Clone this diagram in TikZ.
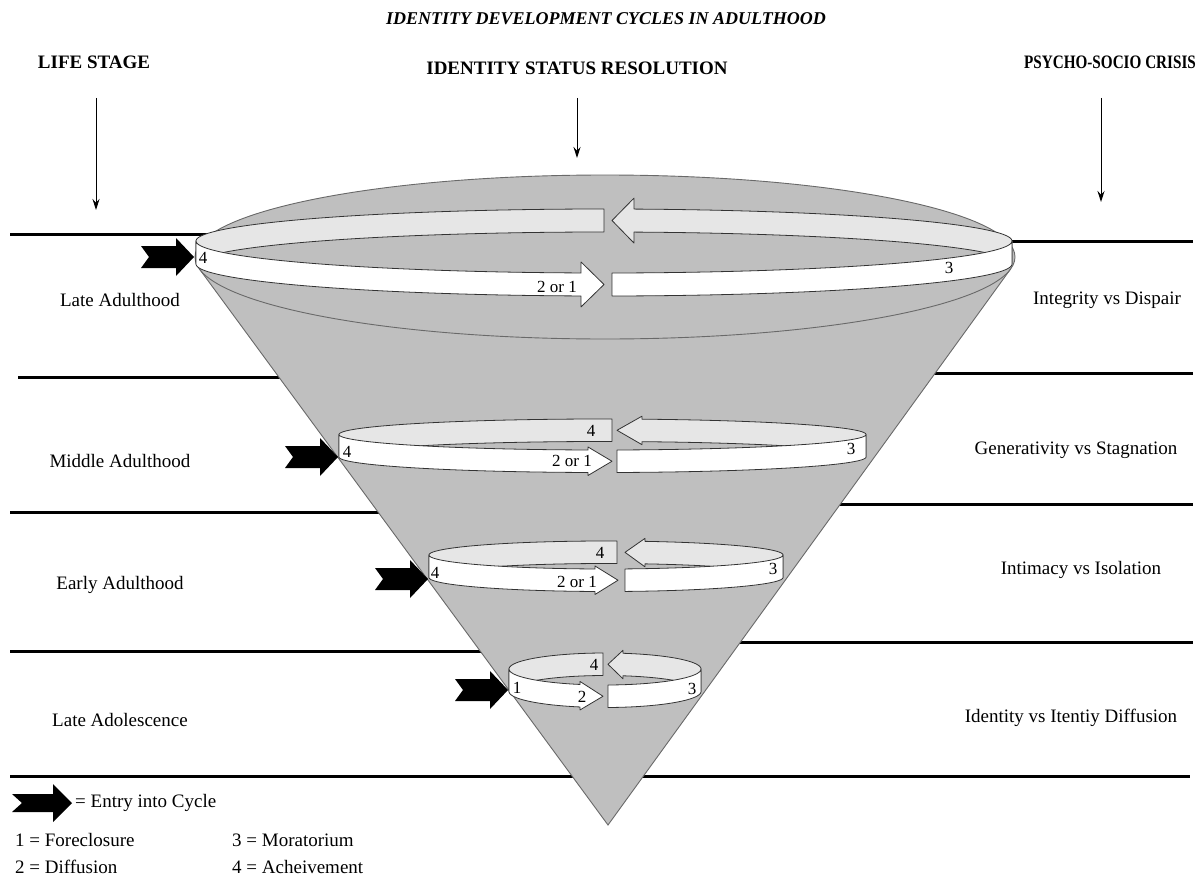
\documentclass[tikz,border=0pt]{standalone}
\usepackage{fontspec}
\usepackage{graphicx}
\setmainfont{Liberation Serif}
\usetikzlibrary{arrows.meta}
\definecolor{conegray}{RGB}{191,191,191}
\definecolor{backgray}{RGB}{230,230,230}
\definecolor{edgegray}{RGB}{105,105,105}
\newcommand{\SetRing}[6]{\def\rcx{#1}\def\rrx{#2}\def\ryu{#3}\def\ryl{#4}\def\rry{#5}\def\re{#6}}
\newcommand{\DrawRing}[6]{%
 \pgfmathsetmacro\tfb{acos((#1-\rcx)/\rrx)}%
 \pgfmathsetmacro\tft{acos((#2-\rcx)/\rrx)}%
 \pgfmathsetmacro\tfs{acos((#3-\rcx)/\rrx)}%
 \pgfmathsetmacro\tbf{360-acos((#4-\rcx)/\rrx)}%
 \pgfmathsetmacro\tbt{360-acos((#5-\rcx)/\rrx)}%
 \pgfmathsetmacro\tbb{360-acos((#6-\rcx)/\rrx)}%
 \pgfmathsetmacro\ymf{(\ryu+\ryl)/2+\rry*sin(\tft)}%
 \pgfmathsetmacro\ymb{(\ryu+\ryl)/2+\rry*sin(\tbt)}%
 \pgfmathsetmacro\yhbt{\ryu+\rry*sin(\tbb)-\re}%
 \pgfmathsetmacro\yhfb{\ryl+\rry*sin(\tfb)+\re}%
 \filldraw[backband] plot[domain=180:\tbf] ({\rcx+\rrx*cos(\x)},{\ryu+\rry*sin(\x)})
   -- plot[domain=\tbf:180] ({\rcx+\rrx*cos(\x)},{\ryl+\rry*sin(\x)}) -- cycle;
 \filldraw[backband] plot[domain=\tbb:360] ({\rcx+\rrx*cos(\x)},{\ryu+\rry*sin(\x)})
   -- plot[domain=360:\tbb] ({\rcx+\rrx*cos(\x)},{\ryl+\rry*sin(\x)})
   -- ++(0,\re) -- (#5,\ymb) -- (#6,\yhbt) -- cycle;
 \filldraw[frontband] plot[domain=180:\tfb] ({\rcx+\rrx*cos(\x)},{\ryu+\rry*sin(\x)})
   -- ++(0,-\re) -- (#2,\ymf) -- (#1,\yhfb)
   -- plot[domain=\tfb:180] ({\rcx+\rrx*cos(\x)},{\ryl+\rry*sin(\x)}) -- cycle;
 \filldraw[frontband] plot[domain=\tfs:0] ({\rcx+\rrx*cos(\x)},{\ryu+\rry*sin(\x)})
   -- plot[domain=0:\tfs] ({\rcx+\rrx*cos(\x)},{\ryl+\rry*sin(\x)}) -- cycle;
}
\tikzset{
 sepline/.style={line width=3pt, black},
 conefill/.style={fill=conegray},
 coneedge/.style={draw=edgegray, line width=0.9pt},
 backband/.style={fill=backgray, draw=black!80, line width=0.8pt, samples=100, line join=round},
 frontband/.style={fill=white, draw=black!80, line width=0.8pt, samples=100, line join=round},
 lbl/.style={font=\fontsize{19}{22}\selectfont, inner sep=0pt},
 numlbl/.style={font=\fontsize{17}{20}\selectfont, inner sep=0pt},
 hdr/.style={font=\fontsize{19}{22}\selectfont\bfseries, inner sep=0pt},
 downarrow/.style={-{Stealth[length=11pt,width=7pt]}, line width=1pt},
 entryarrow/.pic={\fill (-53,-11) -- (-18,-11) -- (-18,-19) -- (0,0) -- (-18,19) -- (-18,11) -- (-53,11) -- (-45,0) -- cycle;},
 legendarrow/.pic={\fill (-60,-9) -- (-19,-9) -- (-19,-19) -- (0,0) -- (-19,19) -- (-19,9) -- (-60,9) -- (-50,0) -- cycle;}
}
\begin{document}
\begin{tikzpicture}[x=1pt,y=-1pt]
\path[use as bounding box] (0,0) rectangle (1198,888);
% separator lines
\draw[sepline] (10,234) -- (215,234);
\draw[sepline] (1003,241) -- (1193,241);
\draw[sepline] (18,377) -- (283,377);
\draw[sepline] (926,373) -- (1193,373);
\draw[sepline] (10,512) -- (380,512);
\draw[sepline] (836,504) -- (1193,504);
\draw[sepline] (10,651) -- (484,651);
\draw[sepline] (739,642) -- (1193,642);
\draw[sepline] (10,776) -- (575,776);
\draw[sepline] (643,776) -- (1190,776);
% cone
\coordinate (apex) at (608,825);
\coordinate (tl) at (199.3,268.8);
\coordinate (tr) at (1010.7,268.8);
\coordinate (ctop) at (605,257);
\fill[conefill] (tl) -- (apex) -- (tr) -- cycle;
\fill[conefill] (ctop) ellipse[x radius=410pt, y radius=82pt];
\draw[coneedge] (tl) -- (apex) -- (tr);
\draw[coneedge] (ctop) ellipse[x radius=410pt, y radius=82pt];
% rings
\SetRing{604}{408}{241}{264}{32}{11}
\DrawRing{581}{604}{612}{604}{612}{634}
\SetRing{602.5}{263.5}{434.5}{457}{15.5}{3}
\DrawRing{588}{612}{617}{612}{617}{642}
\SetRing{606}{177}{555}{577.5}{14}{3}
\DrawRing{595}{618}{625}{617}{625}{645}
\SetRing{605}{96}{669}{691.5}{16}{3}
\DrawRing{580}{603}{608}{603}{608}{623}
% ring numbers
\node[numlbl] (r1a) at (203,258) {4};
\node[numlbl] (r1b) at (557,287) {2 or 1};
\node[numlbl] (r1c) at (949,268) {3};
\node[numlbl] (r2a) at (347,452) {4};
\node[numlbl] (r2d) at (591,431) {4};
\node[numlbl] (r2b) at (572,461) {2 or 1};
\node[numlbl] (r2c) at (851,449) {3};
\node[numlbl] (r3a) at (435,573) {4};
\node[numlbl] (r3d) at (600,553) {4};
\node[numlbl] (r3b) at (577,582) {2 or 1};
\node[numlbl] (r3c) at (773,569) {3};
\node[numlbl] (r4a) at (517,688) {1};
\node[numlbl] (r4d) at (594,665) {4};
\node[numlbl] (r4b) at (582,697) {2};
\node[numlbl] (r4c) at (692,689) {3};
% entry arrows
\pic at (194,257) {entryarrow};
\pic at (338,457) {entryarrow};
\pic at (428,579) {entryarrow};
\pic at (508,690) {entryarrow};
% titles and headers
\node[font=\fontsize{18}{20}\selectfont\bfseries\itshape, inner sep=0pt] (title) at (606,19) {IDENTITY DEVELOPMENT CYCLES IN ADULTHOOD};
\node[hdr] (h1) at (94,62) {LIFE STAGE};
\node[hdr] (h2) at (577,68) {IDENTITY STATUS RESOLUTION};
\node[hdr] (h3) at (1110,62) {\scalebox{0.8}[1]{PSYCHO-SOCIO CRISIS}};
\coordinate (a1s) at (96,98);  \coordinate (a1e) at (96,210);
\coordinate (a2s) at (577,98); \coordinate (a2e) at (577,158);
\coordinate (a3s) at (1101,98); \coordinate (a3e) at (1101,202);
\draw[downarrow] (a1s) -- (a1e);
\draw[downarrow] (a2s) -- (a2e);
\draw[downarrow] (a3s) -- (a3e);
% side labels
\node[lbl] (ls1) at (120,300) {Late Adulthood};
\node[lbl] (ls2) at (120,461) {Middle Adulthood};
\node[lbl] (ls3) at (120,585) {Early Adulthood};
\node[lbl] (ls4) at (120,720) {Late Adolescence};
\node[lbl] (cr1) at (1107,300) {Integrity vs Dispair};
\node[lbl] (cr2) at (1076,450) {Generativity vs Stagnation};
\node[lbl] (cr3) at (1081,570) {Intimacy vs Isolation};
\node[lbl] (cr4) at (1071,718) {Identity vs Itentiy Diffusion};
% legend
\pic at (72,803) {legendarrow};
\node[lbl, anchor=west] (lg0) at (75,803) {= Entry into Cycle};
\node[lbl, anchor=west] (lg1) at (15,840) {1 = Foreclosure};
\node[lbl, anchor=west] (lg3) at (232,840) {3 = Moratorium};
\node[lbl, anchor=west] (lg2) at (15,867) {2 = Diffusion};
\node[lbl, anchor=west] (lg4) at (232,867) {4 = Acheivement};
\end{tikzpicture}
\end{document}
